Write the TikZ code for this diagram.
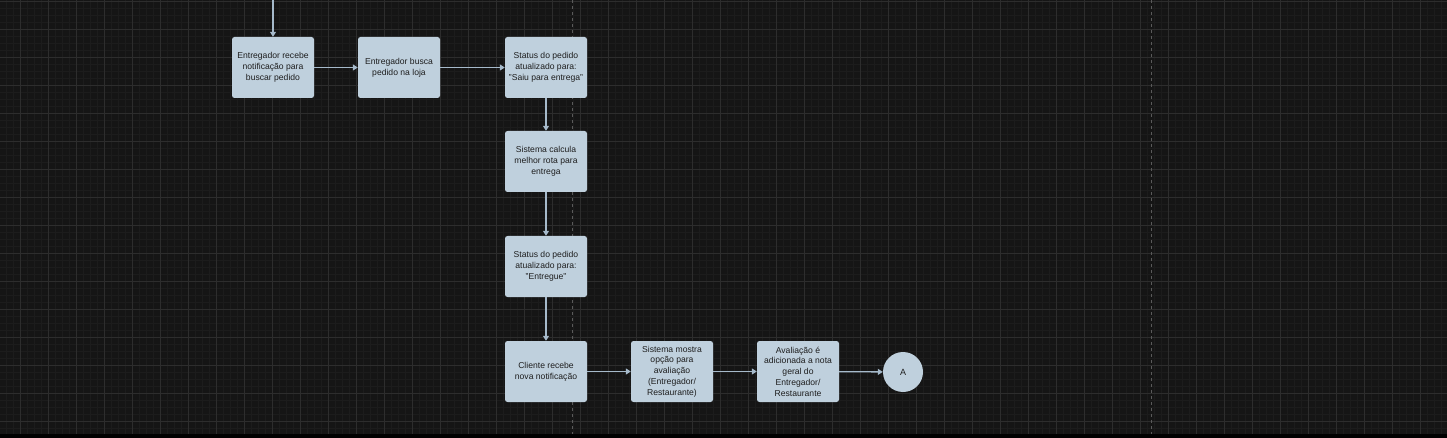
\documentclass[tikz,border=0pt]{standalone}
\usepackage{fontspec}
\setmainfont{Liberation Sans}
\usetikzlibrary{arrows.meta}
\definecolor{fundo}{HTML}{151515}
\definecolor{gradefina}{HTML}{1C1C1C}
\definecolor{grade}{HTML}{2D2D2D}
\definecolor{raia}{HTML}{5A5A5A}
\definecolor{caixa}{HTML}{BFD0DD}
\definecolor{seta}{HTML}{A6BACB}
\definecolor{texto}{HTML}{1E1E1E}
\begin{document}
\begin{tikzpicture}[
    x=1pt, y=-1pt,
    box/.style={rectangle, rounded corners=2.5pt, fill=caixa, minimum width=82pt, minimum height=61pt, align=center, text=texto, font=\fontsize{8.6}{10.8}\selectfont, inner sep=1pt},
    marker/.style={circle, fill=caixa, minimum size=40pt, text=texto, font=\fontsize{9}{11}\selectfont},
    arrow/.style={-{Triangle[length=5pt,width=6pt]}, draw=seta, line width=1.3pt}
]
    % Fundo e grade
    \fill[fundo] (0,0) rectangle (1447,438);
    \useasboundingbox (0,0) rectangle (1447,438);
    \foreach \x in {6,13,...,1447} \draw[gradefina, line width=0.6pt] (\x,0) -- (\x,434);
    \foreach \y in {8,15,...,434} \draw[gradefina, line width=0.6pt] (0,\y) -- (1447,\y);
    \foreach \x in {20,48,...,1447} \draw[grade, line width=0.9pt] (\x,0) -- (\x,434);
    \foreach \y in {1,29,...,434} \draw[grade, line width=0.9pt] (0,\y) -- (1447,\y);
    \draw[raia, line width=0.9pt, dash pattern=on 3pt off 3pt] (572,0) -- (572,434);
    \draw[raia, line width=0.9pt, dash pattern=on 3pt off 3pt] (1151,0) -- (1151,434);
    \fill[black] (0,434) rectangle (1447,438);

    % Retirada do pedido
    \node[box] (recebe) at (273,67.5) {Entregador recebe\\notificação para\\buscar pedido};
    \node[box] (busca) at (399,67.5) {Entregador busca\\pedido na loja};
    \node[box] (saiu) at (546,67.5) {Status do pedido\\atualizado para:\\"Saiu para entrega"};

    % Entrega
    \node[box] (rota) at (546,161.5) {Sistema calcula\\melhor rota para\\entrega};
    \node[box] (entregue) at (546,266.5) {Status do pedido\\atualizado para:\\"Entregue"};

    % Avaliacao
    \node[box] (cliente) at (546,371.5) {Cliente recebe\\nova notificação};
    \node[box] (mostra) at (672,371.5) {Sistema mostra\\opção para\\avaliação\\(Entregador/\\Restaurante)};
    \node[box] (nota) at (798,371.5) {Avaliação é\\adicionada a nota\\geral do\\Entregador/\\Restaurante};
    \node[marker] (conectorA) at (903,372) {A};

    % Setas
    \coordinate (entrada) at (273,0);
    \draw[arrow] (entrada) -- (recebe);
    \draw[arrow] (recebe) -- (busca);
    \draw[arrow] (busca) -- (saiu);
    \draw[arrow] (saiu) -- (rota);
    \draw[arrow] (rota) -- (entregue);
    \draw[arrow] (entregue) -- (cliente);
    \draw[arrow] (cliente) -- (mostra);
    \draw[arrow] (mostra) -- (nota);
    \draw[arrow] (nota) -- (conectorA);
\end{tikzpicture}
\end{document}
